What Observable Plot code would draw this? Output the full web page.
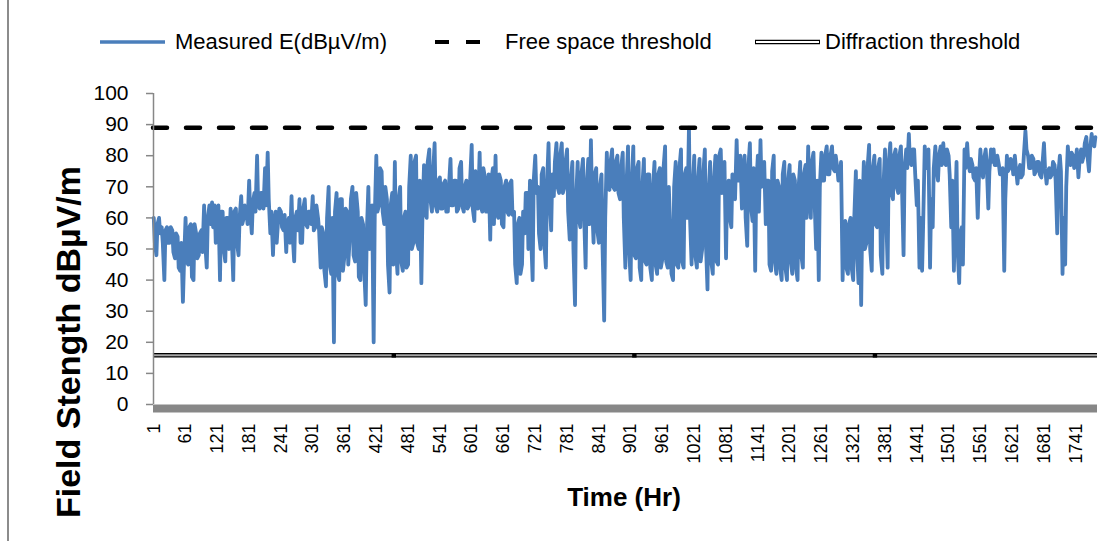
<!DOCTYPE html>
<html>
<head>
<meta charset="utf-8">
<script src="https://cdn.jsdelivr.net/npm/d3@7"></script>
<script src="https://cdn.jsdelivr.net/npm/@observablehq/plot@0.6"></script>
<style>
html,body{margin:0;padding:0;background:#fff;}
#chart{position:relative;width:1111px;height:541px;overflow:hidden;background:#fff;}
#chart > svg{position:absolute;left:0;top:0;}
.lab{position:absolute;white-space:nowrap;color:#000;font-family:"Liberation Sans",Arial,sans-serif;line-height:1;}
</style>
</head>
<body>
<div id="chart"></div>
<script>
// ---- data ----
const hourStep = 5; // hours between readings in each list
// readings at hours 1, 6, 11, ...
const fieldStrength = [
60,48,60,57,40,57,52,56,47,54,
43,33,60,45,58,40,55,48,56,64,
44,64,65,64,58,40,62,46,60,63,
40,63,48,67,60,62,72,55,68,80,
63,68,76,81,55,48,62,60,62,56,
49,60,67,46,62,66,52,66,57,62,
67,57,60,44,55,38,70,42,20,68,
40,
66,48,62,54,70,46,62,40,58,32,
70,56,20,80,64,75,58,66,36,68,
78,42,70,43,62,45,80,52,80,50,
39,77,60,82,62,84,62,73,63,72,
62,79,64,72,63,78,62,72,64,83.5,
59,73,81,62,73,62,53,76,80,60,
72,57,72,61,72,62,39,60,45,55,
68,72,
40,80,70,50,76,44,84,56,67,84,
68,84,70,82,53,78,32,78,57,79,
44,79,85,52,76,52,74,27,81,69,
82,69,80,66,81,44,83,40,83,47,
78,40,79,45,74,40,78,42,76,47,
83,44,55,40,78,44,82,44,76,89,
45,80,44,79,50,82,37,78,42,80,
45,82,72,47,72,57,72,85,72,63,
80,51,84,59,43,80,85,72,58,72,
43,80,42,70,40,78,40,77,42,72,
40,78,44,77,83,60,81,50,40,81,
72,83,74,83,75,76,74,40,59,42,
60,40,75,39,32,78,52,83.5,43,80,
57,79,42,82,44,84,66,82,68,83,
48,
82,87,77,82,64,44,43,83,76,44,
57,83,72,83,84,77,80,57,43,78,
39,57,82,84,75,77,72,60,82,73,
82,63,82,82,77,77,74,43,80,76,
78,80,71,77,74,88,80,76,79,75,
78,73,84,71,76,74,77,55,80,42,
45,83,77,80,78,73,82,80,86,75,
87,83
];
// readings at hours 3, 8, 13, ...
const fieldStrengthMid = [
52,58,55,52,56,52,57,49,55,44,
52,45,46,57,41,58,47,55,49,52,
60,58,57,52,64,62,50,60,50,55,
62,52,60,58,64,58,62,65,62,64,
68,63,64,66,62,58,52,63,57,61,
58,52,55,60,56,52,63,58,62,58,
56,64,56,57,43,60,45,60,62,42,
66,
43,63,45,66,48,68,41,60,44,55,
50,64,60,62,76,62,70,45,64,45,
50,66,46,60,44,70,50,78,52,72,
60,62,78,66,74,64,72,63,71,62,
70,64,72,62,76,64,70,63,72,63,
75,63,64,76,62,74,72,58,62,74,
58,70,62,71,61,45,58,42,62,68,
50,55,
72,68,55,74,52,70,66,74,78,70,
80,68,78,62,72,50,66,60,74,62,
70,58,66,74,56,70,50,60,70,78,
70,78,68,76,60,70,50,72,48,76,
44,70,46,74,44,70,45,74,44,76,
46,70,42,70,45,76,46,74,60,60,
70,48,72,46,74,52,68,46,72,46,
80,68,78,70,60,74,66,72,80,75,
60,76,64,76,70,62,70,78,72,45,
75,46,72,44,74,44,72,46,74,44,
70,48,74,60,68,78,66,72,70,72,
80,74,80,76,80,72,78,58,44,58,
44,60,50,72,60,50,76,50,76,58,
76,48,70,62,78,68,80,70,80,70,
76,
76,78,82,74,72,60,58,76,82,66,
76,76,80,77,78,82,74,72,60,50,
55,45,76,78,79,73,76,72,76,79,
77,75,78,77,80,74,76,66,75,79,
74,76,75,73,80,82,76,80,74,78,
74,77,76,75,73,78,72,74,75,60,
70,78,81,76,82,78,78,84,80,82,
84,86
];
const xTickLabels = [1,61,121,181,241,301,361,421,481,541,601,661,721,781,841,901,961,1021,1081,1141,1201,1261,1321,1381,1441,1501,1561,1621,1681,1741];
const yTickValues = [0,10,20,30,40,50,60,70,80,90,100];
const freeSpaceThreshold = 89;
const diffractionThreshold = 15.8;
const diffractionMarkers = [454, 908, 1362];
const seriesNames = ["Measured E(dBµV/m)", "Free space threshold", "Diffraction threshold"];
const yTitle = "Field Stength dBµV/m";
const xTitle = "Time (Hr)";

const data = [];
fieldStrength.forEach((e, i) => {
  data.push({hour: 1 + hourStep * i, E: e});
  if (i < fieldStrengthMid.length) data.push({hour: 3 + hourStep * i, E: fieldStrengthMid[i]});
});

const font = '"Liberation Sans", Arial, sans-serif';
const plot = Plot.plot({
  width: 1111, height: 541,
  marginTop: 93, marginBottom: 137, marginLeft: 153, marginRight: 14,
  style: {fontFamily: font, background: "transparent", color: "#000", overflow: "visible"},
  x: {domain: [0.5, 1782], ticks: xTickLabels, tickFormat: d => String(d), tickSize: 0, tickPadding: 19, tickRotate: -90, label: null},
  y: {domain: [0, 100], ticks: yTickValues, tickSize: 7, tickPadding: 18, label: null},
  marks: [
    Plot.ruleY([diffractionThreshold], {stroke: "#000", strokeWidth: 4.5}),
    Plot.ruleY([diffractionThreshold], {stroke: "#a6a6a6", strokeWidth: 2}),
    Plot.dot(diffractionMarkers, {x: d => d, y: () => diffractionThreshold, symbol: "square", r: 2.5, fill: "#000"}),
    Plot.line(data, {x: "hour", y: "E", stroke: "#4a7ebb", strokeWidth: 3.8, strokeLinejoin: "round", strokeLinecap: "round"}),
    Plot.ruleY([freeSpaceThreshold], {stroke: "#000", strokeWidth: 4.5, strokeDasharray: "14,19", strokeLinecap: "round"}),
    Plot.ruleY([0], {stroke: "#878787", strokeWidth: 8, dy: 4}),
    Plot.ruleX([0.5], {y1: 0, y2: 100, stroke: "#878787", strokeWidth: 1.5})
  ]
});
const chart = document.getElementById("chart");
chart.appendChild(plot);

// axis styling
const ps = d3.select(plot);
ps.selectAll('g[aria-label="y-axis"], g[aria-label="y-axis tick"], g[aria-label="y-axis tick label"]').attr("font-size", 21);
ps.selectAll('g[aria-label="y-axis"] line, g[aria-label="y-axis"] path, g[aria-label="y-axis tick"] path').attr("stroke", "#878787").attr("stroke-width", 1.5);
ps.selectAll('g[aria-label="x-axis"], g[aria-label="x-axis tick label"]').attr("font-size", 18);

// outer border (left edge)
const border = document.createElement("div");
border.style.cssText = "position:absolute;left:7px;top:0;width:2px;height:541px;background:#8c8c8c;";
chart.appendChild(border);

// legend swatches
const leg = d3.select(chart).append("svg")
  .attr("width", 1111).attr("height", 70)
  .style("position", "absolute").style("left", 0).style("top", 0);
leg.append("line").attr("x1", 100).attr("x2", 165).attr("y1", 42).attr("y2", 42)
  .attr("stroke", "#4a7ebb").attr("stroke-width", 3.5);
leg.append("line").attr("x1", 435).attr("x2", 480).attr("y1", 42).attr("y2", 42)
  .attr("stroke", "#000").attr("stroke-width", 4).attr("stroke-dasharray", "14,17");
leg.append("line").attr("x1", 755).attr("x2", 820).attr("y1", 42).attr("y2", 42)
  .attr("stroke", "#000").attr("stroke-width", 4.5);
leg.append("line").attr("x1", 756).attr("x2", 819).attr("y1", 42).attr("y2", 42)
  .attr("stroke", "#fff").attr("stroke-width", 2);

function addText(txt, css) {
  const s = document.createElement("span");
  s.className = "lab";
  s.textContent = txt;
  s.style.cssText += css;
  chart.appendChild(s);
  return s;
}
addText(seriesNames[0], "left:175px;top:31px;font-size:22px;");
addText(seriesNames[1], "left:505px;top:31px;font-size:22px;");
addText(seriesNames[2], "left:825px;top:31px;font-size:22px;");
addText(yTitle, "left:68px;top:342px;font-size:34px;font-weight:bold;transform:translate(-50%,-50%) rotate(-90deg);");
addText(xTitle, "left:624px;top:497px;font-size:26px;font-weight:bold;transform:translate(-50%,-50%);");
</script>
</body>
</html>
